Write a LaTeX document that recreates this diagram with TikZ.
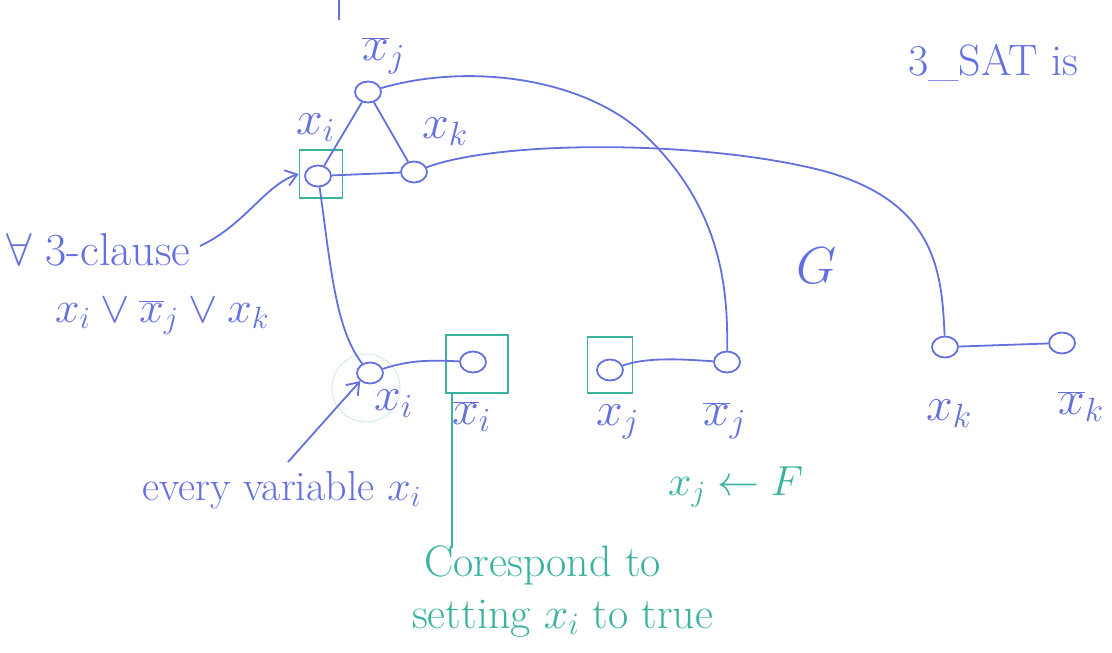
\RequirePackage{fix-cm}
\documentclass[tikz,border=0pt]{standalone}
\usetikzlibrary{shapes.geometric,arrows.meta}
\definecolor{bl}{RGB}{100,112,222}
\definecolor{tl}{RGB}{58,178,160}
\newcommand{\nx}{\overline{x}}
\tikzset{
  vtx/.style={draw=bl, ellipse, line width=1.8pt, minimum width=26pt, minimum height=21pt, inner sep=0pt},
  sbox/.style={draw=tl, line width=1.8pt, inner sep=0pt},
  lbl/.style={text=bl, font=\fontsize{48}{52}\selectfont, inner sep=0pt, anchor=base west},
  txt/.style={text=bl, font=\fontsize{42}{46}\selectfont, inner sep=0pt, anchor=base west},
  tlbl/.style={text=tl, font=\fontsize{44}{48}\selectfont, inner sep=0pt, anchor=base west},
  edge/.style={draw=bl, line width=1.8pt},
  tedge/.style={draw=tl, line width=1.8pt},
  arr/.style={draw=bl, line width=1.8pt, -{Straight Barb[length=11pt,width=16pt]}},
}
\begin{document}
\begin{tikzpicture}[x=1pt,y=-1pt]
\useasboundingbox (0,0) rectangle (1112,653);
% top stroke
\coordinate (s1) at (339,0);
\coordinate (s2) at (339,20);
\draw[edge] (s1) -- (s2);
% clause gadget
\node[sbox, minimum width=43pt, minimum height=48pt] (tibox) at (321,174) {};
\node[vtx] (tj) at (368,92) {};
\node[vtx] (ti) at (318,176) {};
\node[vtx] (tk) at (414,172) {};
\node[lbl] (ltj) at (362,60) {$\nx_j$};
\node[lbl] (lti) at (296,134) {$x_i$};
\node[lbl] (ltk) at (422,138) {$x_k$};
\draw[edge] (tj) -- (ti);
\draw[edge] (tj) -- (tk);
\draw[edge] (ti) -- (tk);
% lower variable gadgets
\draw[tl!40, densely dotted, line width=1pt] (366,388) circle[radius=34pt];
\node[vtx] (vi) at (370,373) {};
\node[sbox, minimum width=62pt, minimum height=58pt] (vnibox) at (477,364) {};
\node[vtx] (vni) at (473,362) {};
\node[sbox, minimum width=45pt, minimum height=56pt] (vjbox) at (610,365) {};
\node[vtx] (vj) at (610,370) {};
\node[vtx] (vnj) at (727,362) {};
\node[vtx] (vk) at (945,347) {};
\node[vtx] (vnk) at (1062,343) {};
\node[lbl] (vil) at (374,410) {$x_i$};
\node[lbl] (vnil) at (452,424) {$\nx_i$};
\node[lbl] (vjl) at (596,425) {$x_j$};
\node[lbl] (vnjl) at (703,425) {$\nx_j$};
\node[lbl] (vkl) at (926,420) {$x_k$};
\node[lbl] (vnkl) at (1058,414) {$\nx_k$};
\draw[edge] (vi) .. controls (410,360) and (430,360) .. (vni);
\draw[edge] (vj) .. controls (650,356) and (690,360) .. (vnj);
\draw[edge] (vk) -- (vnk);
% long edges
\draw[edge] (ti) .. controls (330,260) and (335,330) .. (vi);
\draw[edge] (tj) .. controls (470,62) and (590,78) .. (650,140) .. controls (722,212) and (728,290) .. (vnj);
\draw[edge] (tk) .. controls (500,140) and (700,140) .. (820,170) .. controls (935,200) and (942,270) .. (vk);
% annotations
\node[txt, font=\fontsize{44}{48}\selectfont] (title) at (908,75) {3\_SAT is};
\node[lbl, font=\fontsize{52}{56}\selectfont] (g) at (796,283) {$G$};
\node[txt, font=\fontsize{46}{50}\selectfont] (cl1) at (6,265) {$\forall$ 3-clause};
\node[txt, font=\fontsize{44}{48}\selectfont] (cl2) at (55,322) {$x_i \vee \nx_j \vee x_k$};
\coordinate (a1) at (200,246);
\draw[arr] (a1) .. controls (245,225) and (265,185) .. (tibox.west);
\node[txt] (ev) at (142,500) {every variable $x_i$};
\coordinate (a2) at (288,462);
\draw[arr] (a2) -- (vi.south west);
\node[tlbl, font=\fontsize{42}{46}\selectfont] (xjf) at (668,495) {$x_j \leftarrow F$};
\coordinate (t1) at (452,548);
\draw[tedge] (vnibox.south west) ++(7,0) coordinate (t0) -- (t0 |- t1);
\node[tlbl] (cor1) at (424,576) {Corespond to};
\node[tlbl] (cor2) at (412,628) {setting $x_i$ to true};
\end{tikzpicture}
\end{document}
